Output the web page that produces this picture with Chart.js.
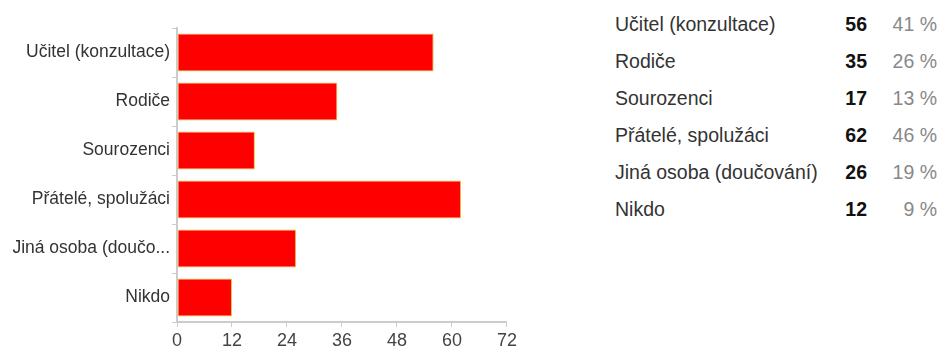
<!DOCTYPE html>
<html><head><meta charset="utf-8">
<script src="https://cdn.jsdelivr.net/npm/chart.js@4/dist/chart.umd.min.js"></script>
<style>
html,body{margin:0;padding:0;background:#fff;width:941px;height:347px;overflow:hidden;font-family:"Liberation Sans",Arial,sans-serif;}
#wrap{position:absolute;left:0;top:0;width:520px;height:347px;}
#tbl{position:absolute;left:615px;top:6px;border-collapse:collapse;font-size:19.5px;table-layout:fixed;}
#tbl td{height:37px;padding:0;vertical-align:middle;white-space:nowrap;}
#tbl td.l{color:#333;width:212px;}
#tbl td.c{color:#111;font-weight:bold;text-align:right;width:40px;}
#tbl td.p{color:#888;text-align:right;width:70px;}
</style></head><body>
<div id="wrap"><canvas id="c"></canvas></div>
<table id="tbl"></table>
<script>
const categories = ["Učitel (konzultace)", "Rodiče", "Sourozenci", "Přátelé, spolužáci", "Jiná osoba (doučování)", "Nikdo"];
const counts = [56, 35, 17, 62, 26, 12];
const percents = [41, 26, 13, 46, 19, 9];
const xTicks = [0, 12, 24, 36, 48, 60, 72];

const tbl = document.getElementById('tbl');
categories.forEach((c, i) => {
  const tr = document.createElement('tr');
  tr.innerHTML = '<td class="l"></td><td class="c"></td><td class="p"></td>';
  tr.children[0].textContent = c;
  tr.children[1].textContent = counts[i];
  tr.children[2].textContent = percents[i] + ' %';
  tbl.appendChild(tr);
});

new Chart(document.getElementById('c'), {
  type: 'bar',
  data: {
    labels: categories,
    datasets: [{
      data: counts,
      backgroundColor: '#ff0000',
      borderColor: '#e8c84a',
      borderWidth: 1,
      borderSkipped: false,
      categoryPercentage: 0.78,
      barPercentage: 1.0
    }]
  },
  options: {
    indexAxis: 'y',
    responsive: true,
    maintainAspectRatio: false,
    animation: false,
    layout: { padding: { top: 28, right: 10, left: 0, bottom: 0 } },
    plugins: { legend: { display: false }, tooltip: { enabled: false } },
    scales: {
      x: {
        min: 0, max: 72,
        afterBuildTicks: s => { s.ticks = xTicks.map(v => ({ value: v })); },
        afterFit: s => { s.height = 25; },
        grid: { drawOnChartArea: false, drawTicks: true, tickLength: 5, color: '#cccccc' },
        border: { color: '#cccccc', width: 2 },
        ticks: { font: { family: 'Liberation Sans', size: 18 }, color: '#444', padding: 3, maxRotation: 0 }
      },
      y: {
        afterFit: s => { s.width = 177; },
        grid: { drawOnChartArea: false, drawTicks: true, tickLength: 5, color: '#cccccc' },
        border: { color: '#cccccc', width: 2 },
        ticks: {
          font: { family: 'Liberation Sans', size: 17.5 }, color: '#333', padding: 2,
          callback: function (v) {
            const l = this.getLabelForValue(v);
            return l.length > 20 ? l.slice(0, 17) + '...' : l;
          }
        }
      }
    }
  }
});
</script>
</body></html>
